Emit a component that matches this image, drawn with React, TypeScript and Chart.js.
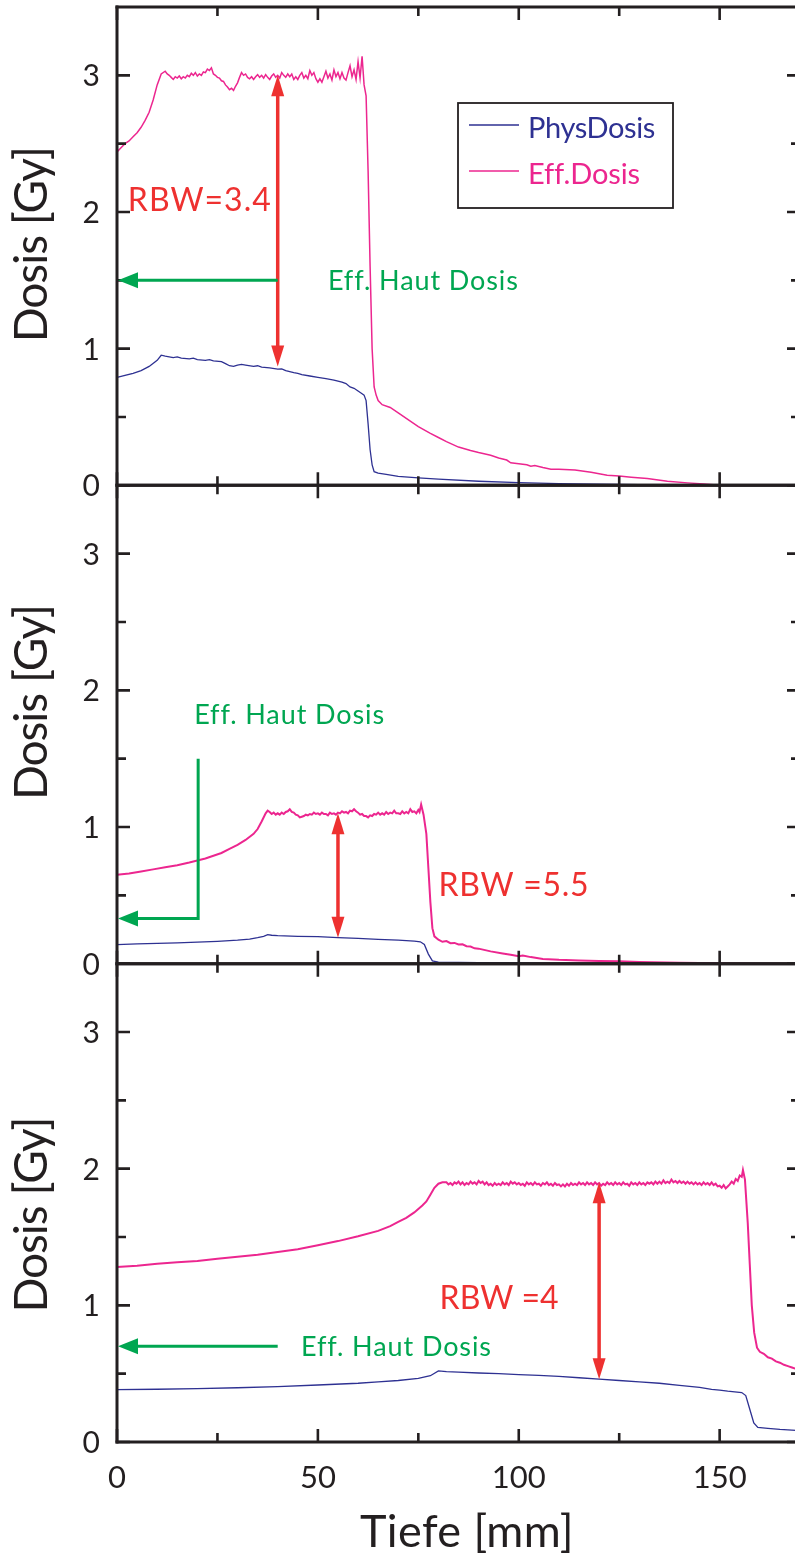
import React, { useEffect, useRef } from "react";
import { Chart, registerables } from "chart.js";

Chart.register(...registerables);

// ---------- axis / tick data ----------
const X_MIN = 0;
const X_MAX = 170;
const Y_MAX = 3.5;
const X_MAJOR_TICKS = [0, 50, 100, 150];
const X_MINOR_TICKS = [25, 75, 125];
const X_TICK_LABELS = ["0", "50", "100", "150"];
const Y_MAJOR_TICKS = [0, 1, 2, 3];
const Y_MINOR_TICKS = [0.5, 1.5, 2.5];
const Y_TICK_LABELS = ["0", "1", "2", "3"];
const X_TITLE = "Tiefe [mm]";
const Y_TITLE = "Dosis [Gy]";
const SERIES_NAMES = ["PhysDosis", "Eff.Dosis"];

// ---------- series: [depth mm, dose Gy] ----------
const topPhys: [number, number][] = [
  [0, 0.79], [2, 0.805], [4, 0.82], [6, 0.84], [8, 0.87], [10, 0.915], [11, 0.952], [12, 0.945],
  [13, 0.94], [14, 0.935], [15, 0.94], [16, 0.93], [18, 0.925], [19, 0.93], [20, 0.92], [22, 0.915],
  [23, 0.92], [24, 0.91], [26, 0.905], [27, 0.89], [28, 0.875], [29, 0.87], [30, 0.88], [31, 0.885],
  [32, 0.88], [34, 0.87], [35, 0.875], [36, 0.865], [38, 0.86], [40, 0.85], [41, 0.852], [42, 0.84],
  [44, 0.825], [45, 0.82], [46, 0.81], [48, 0.8], [50, 0.79], [52, 0.78], [54, 0.77], [56, 0.755],
  [57, 0.745], [58, 0.72], [59, 0.71], [60, 0.69], [61, 0.67], [61.5, 0.66], [62, 0.62], [62.5, 0.45],
  [63, 0.26], [63.5, 0.15], [64, 0.1], [65, 0.09], [67, 0.08], [70, 0.066], [75, 0.055], [80, 0.045],
  [90, 0.03], [100, 0.02], [110, 0.013], [125, 0.006], [140, 0.002], [150, 0], [170, 0],
];

const topEff: [number, number][] = [
  [0, 2.44], [1, 2.47], [2, 2.5], [3, 2.52], [4, 2.55], [5, 2.58], [6, 2.62], [7, 2.67], [8, 2.73],
  [9, 2.82], [10, 2.93], [11, 3.01], [12, 3.03], [12.5, 3.01],
  [13, 3.0], [13.5, 2.985], [14, 2.97], [14.5, 2.99], [15, 2.98], [15.5, 2.995], [16, 2.975], [16.5, 2.99],
  [17, 2.98], [17.5, 3.0], [18, 2.99], [18.5, 3.015], [19, 3.0], [19.5, 3.02], [20, 2.995], [20.5, 3.01],
  [21, 3.0], [21.5, 3.025], [22, 3.02], [22.5, 3.045], [23, 3.035], [23.5, 3.055], [24, 3.01], [24.5, 3.0],
  [25, 2.985], [25.5, 2.98], [26, 2.96], [26.5, 2.955], [27, 2.93], [27.5, 2.915], [28, 2.895], [28.5, 2.905],
  [29, 2.89], [29.5, 2.92], [30, 2.945], [30.5, 2.985], [31, 3.02], [31.5, 3.0], [32, 3.01], [32.5, 2.985],
  [33, 2.975], [33.5, 2.99], [34, 2.97], [34.5, 2.99], [35, 3.005], [35.5, 2.985], [36, 3.0], [36.5, 2.98],
  [37, 3.005], [37.5, 2.985], [38, 2.97], [38.5, 2.995], [39, 3.01], [39.5, 2.985], [40, 3.0], [40.5, 2.98],
  [41, 3.02], [41.5, 3.0], [42, 2.985], [42.5, 3.01], [43, 2.99], [43.5, 3.01], [44, 2.97], [44.5, 2.99],
  [45, 2.97], [45.5, 3.0], [46, 3.02], [46.5, 2.98], [47, 3.0], [47.5, 2.975], [48, 3.035], [48.5, 3.0],
  [49, 3.02], [49.5, 2.975], [50, 2.95], [50.5, 2.975], [51, 2.95], [51.5, 2.99], [52, 3.03], [52.5, 2.98],
  [53, 3.01], [53.5, 2.965], [54, 3.04], [54.5, 2.99], [55, 3.02], [55.5, 2.975], [56, 3.02], [56.5, 2.98],
  [57, 2.965], [57.5, 3.02], [58, 3.07], [58.5, 2.99], [59, 3.04], [59.5, 2.97], [60, 3.1], [60.5, 2.98],
  [61, 3.14], [61.5, 2.93], [62, 2.85],
  [62.5, 2.3], [63, 1.6], [63.5, 1.0], [64, 0.72], [64.5, 0.66], [65, 0.62], [66, 0.59], [68, 0.57],
  [70, 0.53], [72, 0.49], [75, 0.43], [78, 0.38], [80, 0.35], [82, 0.32], [85, 0.28], [88, 0.255],
  [90, 0.24], [93, 0.22], [95, 0.2], [97, 0.185], [98, 0.165], [100, 0.158], [102, 0.15], [103, 0.14],
  [104, 0.145], [106, 0.13], [108, 0.118], [110, 0.117], [114, 0.112], [118, 0.095], [122, 0.073],
  [125, 0.068], [128, 0.06], [132, 0.05], [137, 0.03], [142, 0.018], [146, 0.01], [150, 0], [160, 0],
  [170, 0],
];

const midPhys: [number, number][] = [
  [0, 0.14], [5, 0.145], [10, 0.148], [15, 0.152], [20, 0.157], [25, 0.163], [30, 0.172], [33, 0.18],
  [35, 0.19], [36.5, 0.2], [37.5, 0.212], [38.5, 0.208], [40, 0.205], [45, 0.2], [50, 0.198],
  [55, 0.19], [60, 0.185], [65, 0.178], [70, 0.172], [74, 0.165], [75.5, 0.16], [76.5, 0.14],
  [77.5, 0.07], [78.5, 0.02], [80, 0.012], [90, 0.008], [100, 0.005], [120, 0.002], [150, 0], [170, 0],
];

const midEff: [number, number][] = [
  [0, 0.65], [3, 0.66], [6, 0.675], [9, 0.69], [12, 0.705], [15, 0.72], [18, 0.74], [20, 0.755],
  [22, 0.77], [24, 0.79], [26, 0.81], [28, 0.84], [30, 0.87], [32, 0.905], [34, 0.95], [35, 0.985],
  [36, 1.04], [37, 1.1], [37.5, 1.12],
  [38, 1.11], [38.5, 1.095], [39, 1.105], [39.5, 1.09], [40, 1.1], [40.5, 1.09], [41, 1.105], [41.5, 1.095],
  [42, 1.11], [42.5, 1.115], [43, 1.13], [43.5, 1.11], [44, 1.105], [44.5, 1.09], [45, 1.085], [45.5, 1.07],
  [46, 1.075], [46.5, 1.08], [47, 1.09], [47.5, 1.085], [48, 1.095], [48.5, 1.09], [49, 1.105], [49.5, 1.095],
  [50, 1.1], [50.5, 1.09], [51, 1.105], [51.5, 1.095], [52, 1.095], [52.5, 1.085], [53, 1.105], [53.5, 1.095],
  [54, 1.1], [54.5, 1.09], [55, 1.105], [55.5, 1.1], [56, 1.115], [56.5, 1.105], [57, 1.11], [57.5, 1.1],
  [58, 1.12], [58.5, 1.115], [59, 1.13], [59.5, 1.115], [60, 1.105], [60.5, 1.09], [61, 1.095], [61.5, 1.08],
  [62, 1.08], [62.5, 1.07], [63, 1.085], [63.5, 1.08], [64, 1.095], [64.5, 1.09], [65, 1.105], [65.5, 1.09],
  [66, 1.1], [66.5, 1.09], [67, 1.11], [67.5, 1.095], [68, 1.105], [68.5, 1.1], [69, 1.12], [69.5, 1.1],
  [70, 1.1], [70.5, 1.095], [71, 1.115], [71.5, 1.1], [72, 1.11], [72.5, 1.1], [73, 1.13], [73.5, 1.11],
  [74, 1.115], [74.5, 1.1], [75, 1.125], [75.3, 1.11], [75.7, 1.165], [76.3, 1.09],
  [77, 0.95], [77.5, 0.7], [78, 0.45], [78.5, 0.26],
  [79, 0.2], [80, 0.175], [81, 0.16], [82, 0.165], [83, 0.15], [84, 0.152], [85, 0.14], [86, 0.142],
  [87, 0.128], [88, 0.125], [89, 0.112], [90, 0.11], [93, 0.09], [96, 0.075], [98, 0.065],
  [100, 0.055], [101, 0.06], [103, 0.048], [106, 0.035], [110, 0.028], [115, 0.024], [120, 0.02],
  [125, 0.017], [130, 0.012], [140, 0.007], [150, 0.003], [160, 0], [170, 0],
];

const botPhys: [number, number][] = [
  [0, 0.383], [10, 0.386], [20, 0.39], [30, 0.397], [40, 0.405], [50, 0.417], [60, 0.43], [65, 0.44],
  [70, 0.45], [75, 0.465], [78, 0.485], [80, 0.52], [82, 0.515], [85, 0.512], [90, 0.505], [95, 0.5],
  [100, 0.493], [105, 0.487], [110, 0.48], [115, 0.47], [120, 0.46], [125, 0.45], [130, 0.44],
  [135, 0.43], [140, 0.415], [145, 0.4], [148, 0.385], [150, 0.38], [152, 0.372], [155.5, 0.362],
  [156.5, 0.34], [157.5, 0.24], [158.5, 0.14], [159.5, 0.107], [162, 0.1], [165, 0.092], [170, 0.083],
];

const botEff: [number, number][] = [
  [0, 1.28], [5, 1.29], [10, 1.305], [15, 1.315], [20, 1.325], [25, 1.34], [30, 1.355], [35, 1.37],
  [40, 1.39], [45, 1.41], [50, 1.44], [55, 1.47], [60, 1.505], [65, 1.545], [68, 1.58], [70, 1.61],
  [72, 1.64], [74, 1.68], [76, 1.73], [77, 1.76], [78, 1.81], [79, 1.86], [80, 1.89], [81, 1.9],
  [82, 1.9], [82.5, 1.885], [83, 1.895], [83.5, 1.88], [84, 1.9], [84.5, 1.89], [85, 1.905], [85.5, 1.885],
  [86, 1.9], [86.5, 1.88], [87, 1.895], [87.5, 1.885], [88, 1.905], [88.5, 1.89], [89, 1.9], [89.5, 1.885],
  [90, 1.91], [90.5, 1.895], [91, 1.905], [91.5, 1.885], [92, 1.9], [92.5, 1.88], [93, 1.89], [93.5, 1.875],
  [94, 1.895], [94.5, 1.88], [95, 1.89], [95.5, 1.88], [96, 1.9], [96.5, 1.885], [97, 1.895], [97.5, 1.88],
  [98, 1.905], [98.5, 1.89], [99, 1.9], [99.5, 1.885], [100, 1.895], [100.5, 1.88], [101, 1.89], [101.5, 1.875],
  [102, 1.9], [102.5, 1.885], [103, 1.895], [103.5, 1.88], [104, 1.9], [104.5, 1.885], [105, 1.89], [105.5, 1.875],
  [106, 1.895], [106.5, 1.885], [107, 1.9], [107.5, 1.88], [108, 1.89], [108.5, 1.875], [109, 1.895], [109.5, 1.88],
  [110, 1.885], [110.5, 1.87], [111, 1.885], [111.5, 1.87], [112, 1.89], [112.5, 1.875], [113, 1.895], [113.5, 1.88],
  [114, 1.89], [114.5, 1.88], [115, 1.9], [115.5, 1.885], [116, 1.895], [116.5, 1.88], [117, 1.9], [117.5, 1.885],
  [118, 1.895], [118.5, 1.88], [119, 1.9], [119.5, 1.885], [120, 1.895], [120.5, 1.875], [121, 1.89], [121.5, 1.88],
  [122, 1.9], [122.5, 1.885], [123, 1.895], [123.5, 1.88], [124, 1.9], [124.5, 1.885], [125, 1.895], [125.5, 1.88],
  [126, 1.9], [126.5, 1.885], [127, 1.89], [127.5, 1.875], [128, 1.9], [128.5, 1.885], [129, 1.895], [129.5, 1.88],
  [130, 1.9], [130.5, 1.885], [131, 1.895], [131.5, 1.88], [132, 1.9], [132.5, 1.89], [133, 1.9], [133.5, 1.885],
  [134, 1.905], [134.5, 1.89], [135, 1.905], [135.5, 1.89], [136, 1.915], [136.5, 1.895], [137, 1.905], [137.5, 1.895],
  [138, 1.92], [138.5, 1.9], [139, 1.91], [139.5, 1.895], [140, 1.91], [140.5, 1.895], [141, 1.905], [141.5, 1.89],
  [142, 1.905], [142.5, 1.89], [143, 1.9], [143.5, 1.885], [144, 1.9], [144.5, 1.885], [145, 1.895], [145.5, 1.88],
  [146, 1.9], [146.5, 1.885], [147, 1.895], [147.5, 1.88], [148, 1.9], [148.5, 1.88], [149, 1.89], [149.5, 1.87],
  [150, 1.875], [150.5, 1.86], [151, 1.88], [151.5, 1.855], [152, 1.87], [152.5, 1.885], [153, 1.905], [153.5, 1.89],
  [154, 1.925], [154.5, 1.91], [155, 1.95], [155.5, 1.94], [155.8, 1.99],
  [156.3, 1.92], [157, 1.6], [157.5, 1.3], [158, 1.0],
  [158.6, 0.8], [159.3, 0.69], [160, 0.66], [161, 0.645], [162, 0.62], [163, 0.61], [164, 0.59],
  [165, 0.58], [166, 0.565], [167, 0.555], [168, 0.545], [169, 0.535], [170, 0.53],
];

// ---------- annotation texts ----------
const RBW_TEXTS = ["RBW=3.4", "RBW =5.5", "RBW =4"];
const HAUT_TEXT = "Eff. Haut Dosis";

// ---------- styles ----------
const BLUE = "#2E3192";
const PINK = "#EC268F";
const RED = "#EE3130";
const GREEN = "#00A651";
const AXIS = "#231F20";
const FONT = "Lato, 'Open Sans', 'DejaVu Sans', sans-serif";

const PANEL_IDS = ["yTop", "yMid", "yBot"];

// annotation layout (data coordinates in each panel)
const ANNOT = [
  {
    red: { x: 40, from: 3.0, to: 0.87 },
    rbw: { x: 2.7, y: 2.09, w: 144 },
    green: { x: 40, y: 1.5, bendY: null as number | null },
    haut: { x: 52.5, y: 1.5 },
    title: 1.76,
  },
  {
    red: { x: 55, from: 1.1, to: 0.19 },
    rbw: { x: 80, y: 0.58, w: 151 },
    green: { x: 20.2, y: 0.33, bendY: 1.5 as number | null },
    haut: { x: 19.2, y: 1.825 },
    title: 1.91,
  },
  {
    red: { x: 120, from: 1.9, to: 0.46 },
    rbw: { x: 80.3, y: 1.06, w: 119 },
    green: { x: 40, y: 0.7, bendY: null as number | null },
    haut: { x: 45.8, y: 0.7 },
    title: 1.66,
  },
];

function toPoints(arr: [number, number][]) {
  return arr.map(([x, y]) => ({ x, y }));
}

function drawFitText(
  ctx: CanvasRenderingContext2D,
  text: string,
  x: number,
  y: number,
  target: number,
  align: CanvasTextAlign = "left"
) {
  const anyCtx = ctx as any;
  const has = "letterSpacing" in anyCtx;
  if (has) anyCtx.letterSpacing = "0px";
  ctx.textAlign = "left";
  const w = ctx.measureText(text).width;
  let sx = 1;
  if (has && target > 0) {
    const ls = (target - w) / text.length;
    anyCtx.letterSpacing = ls.toFixed(2) + "px";
  } else if (target > 0) {
    sx = target / w;
  }
  const w2 = has ? ctx.measureText(text).width : w * sx;
  let x0 = x;
  if (align === "center") x0 = x - w2 / 2;
  else if (align === "right") x0 = x - w2;
  ctx.save();
  ctx.translate(x0, y);
  ctx.scale(sx, 1);
  ctx.fillText(text, 0, 0);
  ctx.restore();
  if (has) anyCtx.letterSpacing = "0px";
}

function arrowHead(
  ctx: CanvasRenderingContext2D,
  tipX: number,
  tipY: number,
  dx: number,
  dy: number,
  len: number,
  wid: number
) {
  const bx = tipX - dx * len;
  const by = tipY - dy * len;
  const px = -dy;
  const py = dx;
  ctx.beginPath();
  ctx.moveTo(tipX, tipY);
  ctx.lineTo(bx + (px * wid) / 2, by + (py * wid) / 2);
  ctx.lineTo(bx - (px * wid) / 2, by - (py * wid) / 2);
  ctx.closePath();
  ctx.fill();
}

const overlayPlugin = {
  id: "overlayPlugin",
  afterDatasetsDraw(chart: any) {
    const ctx: CanvasRenderingContext2D = chart.ctx;
    const xs = chart.scales.x;
    const { left, right, top, bottom } = chart.chartArea;
    const MAJ = 13;
    const MIN = 9;
    ctx.save();

    // ----- frames & ticks -----
    ctx.strokeStyle = AXIS;
    ctx.fillStyle = AXIS;
    ctx.lineWidth = 3;
    ctx.lineCap = "butt";
    ctx.beginPath();
    ctx.moveTo(left, top - 1.5);
    ctx.lineTo(left, bottom + 1.5);
    ctx.moveTo(right, top - 1.5);
    ctx.lineTo(right, bottom + 1.5);
    ctx.stroke();

    PANEL_IDS.forEach((id) => {
      const ys = chart.scales[id];
      const y0 = ys.getPixelForValue(0);
      const yT = ys.getPixelForValue(Y_MAX);
      ctx.lineWidth = 3;
      ctx.beginPath();
      ctx.moveTo(left - 1.5, y0);
      ctx.lineTo(right + 1.5, y0);
      ctx.moveTo(left - 1.5, yT);
      ctx.lineTo(right + 1.5, yT);
      ctx.stroke();

      ctx.lineWidth = 2.6;
      ctx.beginPath();
      Y_MAJOR_TICKS.forEach((v) => {
        const p = ys.getPixelForValue(v);
        ctx.moveTo(left, p);
        ctx.lineTo(left + MAJ, p);
        ctx.moveTo(right, p);
        ctx.lineTo(right - MAJ, p);
      });
      Y_MINOR_TICKS.forEach((v) => {
        const p = ys.getPixelForValue(v);
        ctx.moveTo(left, p);
        ctx.lineTo(left + MIN, p);
        ctx.moveTo(right, p);
        ctx.lineTo(right - MIN, p);
      });
      X_MAJOR_TICKS.forEach((v) => {
        const p = xs.getPixelForValue(v);
        ctx.moveTo(p, y0);
        ctx.lineTo(p, y0 - MAJ);
        ctx.moveTo(p, yT);
        ctx.lineTo(p, yT + MAJ);
      });
      X_MINOR_TICKS.forEach((v) => {
        const p = xs.getPixelForValue(v);
        ctx.moveTo(p, y0);
        ctx.lineTo(p, y0 - MIN);
        ctx.moveTo(p, yT);
        ctx.lineTo(p, yT + MIN);
      });
      ctx.stroke();

      // y tick labels
      ctx.font = `30px ${FONT}`;
      ctx.textBaseline = "alphabetic";
      ctx.textAlign = "right";
      Y_MAJOR_TICKS.forEach((v, i) => {
        const p = ys.getPixelForValue(v);
        ctx.fillText(Y_TICK_LABELS[i], left - 17, p + 11);
      });
    });

    // x tick labels
    ctx.font = `31px ${FONT}`;
    ctx.textAlign = "center";
    X_MAJOR_TICKS.forEach((v, i) => {
      const p = xs.getPixelForValue(v);
      ctx.fillText(X_TICK_LABELS[i], p, bottom + 46);
    });

    // x title
    ctx.font = `45px ${FONT}`;
    drawFitText(ctx, X_TITLE, 467, bottom + 105, 214, "center");

    // y titles
    PANEL_IDS.forEach((id, i) => {
      const ys = chart.scales[id];
      const cy = ys.getPixelForValue(ANNOT[i].title);
      ctx.save();
      ctx.translate(46.5, cy);
      ctx.rotate(-Math.PI / 2);
      ctx.font = `46px ${FONT}`;
      ctx.fillStyle = AXIS;
      ctx.textBaseline = "alphabetic";
      drawFitText(ctx, Y_TITLE, 0, 0, 195, "center");
      ctx.restore();
    });

    // ----- annotations -----
    PANEL_IDS.forEach((id, i) => {
      const ys = chart.scales[id];
      const a = ANNOT[i];

      // red double arrow
      const rx = xs.getPixelForValue(a.red.x);
      const rTop = ys.getPixelForValue(a.red.from);
      const rBot = ys.getPixelForValue(a.red.to);
      const HL = 21;
      const HW = 13;
      ctx.strokeStyle = RED;
      ctx.fillStyle = RED;
      ctx.lineWidth = 3.5;
      ctx.beginPath();
      ctx.moveTo(rx, rTop + HL - 2);
      ctx.lineTo(rx, rBot - HL + 2);
      ctx.stroke();
      arrowHead(ctx, rx, rTop, 0, -1, HL, HW);
      arrowHead(ctx, rx, rBot, 0, 1, HL, HW);

      // red text
      ctx.font = `32px ${FONT}`;
      ctx.textBaseline = "alphabetic";
      drawFitText(ctx, RBW_TEXTS[i], xs.getPixelForValue(a.rbw.x), ys.getPixelForValue(a.rbw.y) + 11.5, a.rbw.w, "left");

      // green arrow
      const gy = ys.getPixelForValue(a.green.y);
      const gx = xs.getPixelForValue(a.green.x);
      const x0 = xs.getPixelForValue(0);
      ctx.strokeStyle = GREEN;
      ctx.fillStyle = GREEN;
      ctx.lineWidth = 3;
      ctx.beginPath();
      if (a.green.bendY !== null) {
        ctx.moveTo(gx, ys.getPixelForValue(a.green.bendY));
        ctx.lineTo(gx, gy);
      } else {
        ctx.moveTo(gx, gy);
      }
      ctx.lineTo(x0 + 18, gy);
      ctx.stroke();
      arrowHead(ctx, x0 + 1, gy, -1, 0, 20, 16);

      // green text
      ctx.font = `27px ${FONT}`;
      drawFitText(ctx, HAUT_TEXT, xs.getPixelForValue(a.haut.x), ys.getPixelForValue(a.haut.y) + 9.5, 190, "left");
    });

    // ----- legend (top panel) -----
    const ds = chart.data.datasets;
    const bx = 458;
    const by = 103;
    const bw = 215;
    const bh = 105;
    ctx.strokeStyle = AXIS;
    ctx.lineWidth = 1.8;
    ctx.strokeRect(bx, by, bw, bh);
    const rows = [
      { label: ds[0].label, color: ds[0].borderColor, ly: 125, ty: 138, w: 127 },
      { label: ds[1].label, color: ds[1].borderColor, ly: 171, ty: 184, w: 111 },
    ];
    rows.forEach((r) => {
      ctx.strokeStyle = r.color;
      ctx.lineWidth = 1.3;
      ctx.beginPath();
      ctx.moveTo(469, r.ly);
      ctx.lineTo(519, r.ly);
      ctx.stroke();
      ctx.fillStyle = r.color;
      ctx.font = `29px ${FONT}`;
      drawFitText(ctx, r.label, 528, r.ty, r.w, "left");
    });

    ctx.restore();
  },
};

export default function App() {
  const canvasRef = useRef<HTMLCanvasElement | null>(null);

  useEffect(() => {
    document.body.style.margin = "0";
    const canvas = canvasRef.current;
    if (!canvas) return;

    const mk = (label: string, data: [number, number][], color: string, yAxisID: string, width: number) => ({
      label,
      data: toPoints(data),
      borderColor: color,
      backgroundColor: color,
      borderWidth: width,
      pointRadius: 0,
      tension: 0,
      fill: false,
      yAxisID,
    });

    const chart = new Chart(canvas, {
      type: "line",
      data: {
        datasets: [
          mk(SERIES_NAMES[0], topPhys, BLUE, "yTop", 1.3),
          mk(SERIES_NAMES[1], topEff, PINK, "yTop", 1.5),
          mk(SERIES_NAMES[0], midPhys, BLUE, "yMid", 1.3),
          mk(SERIES_NAMES[1], midEff, PINK, "yMid", 2.0),
          mk(SERIES_NAMES[0], botPhys, BLUE, "yBot", 1.3),
          mk(SERIES_NAMES[1], botEff, PINK, "yBot", 2.0),
        ],
      },
      options: {
        responsive: false,
        animation: false,
        devicePixelRatio: 1,
        events: [],
        layout: { padding: { left: 117, right: 5, top: 7, bottom: 115 } },
        plugins: { legend: { display: false }, tooltip: { enabled: false } },
        scales: {
          x: { type: "linear", min: X_MIN, max: X_MAX, display: false },
          // each panel occupies one third of the plotting height
          yTop: { type: "linear", min: Y_MAX - 3 * Y_MAX, max: Y_MAX, display: false },
          yMid: { type: "linear", min: -Y_MAX, max: 2 * Y_MAX, display: false },
          yBot: { type: "linear", min: 0, max: 3 * Y_MAX, display: false },
        },
      } as any,
      plugins: [overlayPlugin as any],
    });

    return () => chart.destroy();
  }, []);

  return (
    <div style={{ width: 795, height: 1557, overflow: "hidden", background: "#ffffff" }}>
      <canvas
        ref={canvasRef}
        width={805}
        height={1557}
        style={{ display: "block", width: 805, height: 1557 }}
      />
    </div>
  );
}
